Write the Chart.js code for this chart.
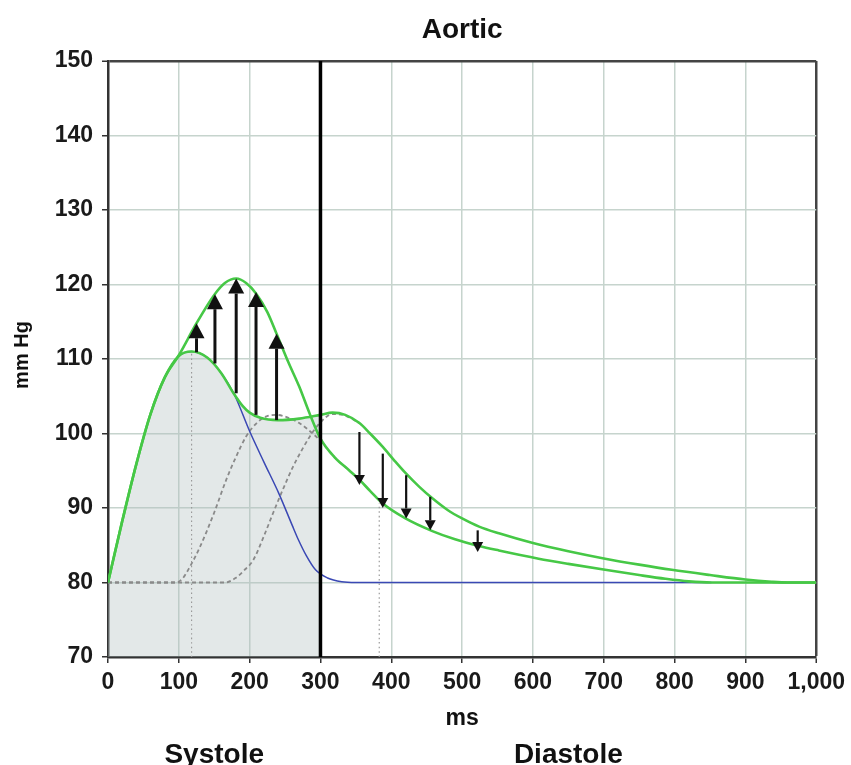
<!DOCTYPE html>
<html>
<head>
<meta charset="utf-8">
<script src="https://cdn.jsdelivr.net/npm/chart.js@4.4.0/dist/chart.umd.min.js"></script>
<style>
  html, body { margin: 0; padding: 0; background: #fff; }
  #wrap { width: 851px; height: 765px; }
</style>
</head>
<body>
<div id="wrap"><canvas id="aorticChart"></canvas></div>
<script>
// pressure traces (ms, mm Hg)
const earlyReflMs = [0, 20, 40, 60, 80, 100, 125, 150, 165, 181, 195, 209, 225, 238, 255, 270, 285, 300, 320, 340, 355, 370, 388, 420, 458, 490, 524, 552, 608, 650, 702, 750, 787, 820, 852, 900, 1000];
const earlyReflP = [80, 88.2, 95.9, 102.6, 107.5, 110.5, 114.8, 118.6, 120.2, 120.8, 120.2, 118.8, 116.3, 113.4, 109.5, 106.3, 102.6, 99.3, 96.8, 95.1, 93.8, 92.3, 90.6, 88.6, 86.9, 85.8, 84.9, 84.3, 83.2, 82.5, 81.7, 81.0, 80.5, 80.15, 80, 80, 80];

const lateReflMs = [0, 20, 40, 60, 80, 100, 118, 140, 160, 178, 190, 200, 215, 240, 270, 300, 317, 335, 355, 370, 388, 405, 421, 440, 458, 480, 500, 524, 552, 600, 650, 702, 750, 796, 850, 900, 937, 960, 1000];
const lateReflP = [80, 88.2, 95.9, 102.6, 107.5, 110.4, 111.0, 110.2, 108.1, 105.3, 103.7, 102.8, 102.1, 101.8, 102.0, 102.5, 102.8, 102.5, 101.4, 100.0, 98.2, 96.3, 94.6, 92.8, 91.3, 89.7, 88.6, 87.5, 86.6, 85.3, 84.2, 83.2, 82.4, 81.7, 81.0, 80.4, 80.1, 80, 80];

const forwardMs = [0, 20, 40, 60, 80, 100, 118, 140, 160, 178, 200, 220, 241, 260, 269, 280, 293, 310, 330, 350, 600, 852];
const forwardP = [80, 88.2, 95.9, 102.6, 107.5, 110.4, 111.0, 110.2, 108.1, 105.3, 100.3, 96.2, 92.0, 87.7, 85.7, 83.6, 81.7, 80.6, 80.1, 80, 80, 80];

const reflWave1Ms = [0, 95, 105, 115, 130, 150, 167, 180, 195, 210, 224, 238, 255, 270, 289, 300, 320, 340];
const reflWave1P = [80, 80, 80.5, 82.0, 84.8, 89.4, 93.8, 96.7, 99.6, 101.4, 102.3, 102.5, 102.1, 101.4, 100.0, 99.0, 96.8, 95.1];

const reflWave2Ms = [0, 165, 180, 192, 205, 220, 233, 247, 261, 275, 285, 300, 317, 335, 355];
const reflWave2P = [80, 80, 80.6, 81.6, 83.0, 86.2, 89.3, 92.5, 95.5, 98.0, 99.6, 101.5, 102.6, 102.4, 101.4];

// arrows between the two traces
const upArrowMs = [125, 151, 181, 209, 238];
const upArrowFrom = [110.9, 109.4, 105.4, 102.5, 101.8];
const upArrowTo = [114.8, 118.7, 120.8, 119.0, 113.4];
const downArrowMs = [355, 388, 421, 455, 522];
const downArrowFrom = [100.2, 97.3, 94.4, 91.5, 87.0];
const downArrowTo = [93.1, 90.0, 88.6, 87.0, 84.1];

// dotted drop lines
const markMs = [118, 383];
const markP = [111.0, 90.6];

const endSystoleMs = 300;
const xMin = 0, xMax = 1000, yMin = 70, yMax = 150;
const phaseLabels = ['Systole', 'Diastole'];

const FONT = "'Liberation Sans', Arial, sans-serif";
const GREEN = '#46c846';

function zip(xs, ys) {
    return xs.map((x, i) => ({ x: x, y: ys[i] }));
}

const lateTrace = zip(lateReflMs, lateReflP);

function drawArrow(ctx, px, y0, y1, lw, headW, headH) {
    const dir = y1 < y0 ? 1 : -1;
    const base = y1 + dir * headH;
    ctx.lineWidth = lw;
    ctx.beginPath();
    ctx.moveTo(px, y0);
    ctx.lineTo(px, base);
    ctx.stroke();
    ctx.beginPath();
    ctx.moveTo(px, y1);
    ctx.lineTo(px - headW / 2, base);
    ctx.lineTo(px + headW / 2, base);
    ctx.closePath();
    ctx.fill();
}

const arrowPlugin = {
    id: 'arrows',
    afterDatasetsDraw(chart) {
        const { ctx, scales: { x, y } } = chart;
        ctx.save();
        ctx.strokeStyle = '#111';
        ctx.fillStyle = '#111';
        upArrowMs.forEach((ms, i) => {
            drawArrow(ctx, x.getPixelForValue(ms), y.getPixelForValue(upArrowFrom[i]), y.getPixelForValue(upArrowTo[i]), 3, 16, 15);
        });
        downArrowMs.forEach((ms, i) => {
            drawArrow(ctx, x.getPixelForValue(ms), y.getPixelForValue(downArrowFrom[i]), y.getPixelForValue(downArrowTo[i]), 2.2, 11, 10);
        });
        ctx.restore();
    }
};

const textPlugin = {
    id: 'texts',
    afterDraw(chart) {
        const { ctx, chartArea: a, scales: { x } } = chart;
        const cx = (a.left + a.right) / 2;
        const cy = (a.top + a.bottom) / 2;
        ctx.save();
        ctx.fillStyle = '#111';
        ctx.textAlign = 'center';
        ctx.textBaseline = 'alphabetic';

        ctx.font = 'bold 28px ' + FONT;
        ctx.fillText('Aortic', cx, 38);

        ctx.font = 'bold 23px ' + FONT;
        ctx.fillText('ms', cx, 725);

        ctx.font = 'bold 28px ' + FONT;
        ctx.fillText(phaseLabels[0], x.getPixelForValue((xMin + endSystoleMs) / 2), 763);
        ctx.fillText(phaseLabels[1], x.getPixelForValue((endSystoleMs + xMax) / 2), 763);

        ctx.translate(28, cy - 4);
        ctx.rotate(-Math.PI / 2);
        ctx.font = 'bold 20px ' + FONT;
        ctx.fillText('mm Hg', 0, 0);
        ctx.restore();
    }
};

const ctx = document.getElementById('aorticChart').getContext('2d');
new Chart(ctx, {
    type: 'line',
    data: {
        datasets: [{
            label: 'end systole',
            data: [{ x: endSystoleMs, y: yMin }, { x: endSystoleMs, y: yMax }],
            borderColor: '#000',
            borderWidth: 3.5
        }, {
            label: 'early reflection',
            data: zip(earlyReflMs, earlyReflP),
            borderColor: GREEN,
            borderWidth: 2.6
        }, {
            label: 'late reflection',
            data: lateTrace,
            borderColor: GREEN,
            borderWidth: 2.6
        }, {
            label: 'forward wave',
            data: zip(forwardMs, forwardP),
            borderColor: '#3a48b4',
            borderWidth: 1.5
        }, {
            label: 'reflected wave 1',
            data: zip(reflWave1Ms, reflWave1P),
            borderColor: '#8a8a8a',
            borderWidth: 1.8,
            borderDash: [4, 3]
        }, {
            label: 'reflected wave 2',
            data: zip(reflWave2Ms, reflWave2P),
            borderColor: '#8a8a8a',
            borderWidth: 1.8,
            borderDash: [4, 3]
        }, {
            label: 'mark 1',
            data: [{ x: markMs[0], y: yMin }, { x: markMs[0], y: markP[0] }],
            borderColor: '#9a9a9a',
            borderWidth: 1.2,
            borderDash: [1.5, 3]
        }, {
            label: 'mark 2',
            data: [{ x: markMs[1], y: yMin }, { x: markMs[1], y: markP[1] }],
            borderColor: '#9a9a9a',
            borderWidth: 1.2,
            borderDash: [1.5, 3]
        }, {
            label: 'systole area',
            data: lateTrace.filter(p => p.x <= endSystoleMs),
            borderWidth: 0,
            borderColor: 'rgba(0,0,0,0)',
            backgroundColor: 'rgba(178,190,190,0.36)',
            fill: 'start'
        }]
    },
    options: {
        responsive: true,
        maintainAspectRatio: false,
        animation: false,
        layout: { padding: { top: 61, right: 33, bottom: 0, left: 0 } },
        elements: {
            point: { radius: 0, hoverRadius: 0 },
            line: { cubicInterpolationMode: 'monotone' }
        },
        plugins: {
            legend: { display: false },
            title: { display: false },
            tooltip: { enabled: false }
        },
        scales: {
            x: {
                type: 'linear',
                min: xMin,
                max: xMax,
                afterFit: s => { s.height = 108; },
                border: { color: '#333', width: 2.5 },
                grid: {
                    color: c => c.tick && c.tick.value === xMax ? '#444' : '#c6d4cd',
                    lineWidth: c => c.tick && c.tick.value === xMax ? 2.5 : 1.5,
                    tickColor: '#333',
                    tickWidth: 1.5,
                    tickLength: 6
                },
                ticks: {
                    stepSize: 100,
                    padding: 6,
                    color: '#1a1a1a',
                    font: { family: FONT, size: 23, weight: 'bold' },
                    callback: v => v.toLocaleString('en-US')
                }
            },
            y: {
                min: yMin,
                max: yMax,
                afterFit: s => { s.width = 108; },
                border: { color: '#333', width: 2.5 },
                grid: {
                    color: c => c.tick && c.tick.value === yMax ? '#444' : '#c6d4cd',
                    lineWidth: c => c.tick && c.tick.value === yMax ? 2.5 : 1.5,
                    tickColor: '#333',
                    tickWidth: 1.5,
                    tickLength: 6
                },
                ticks: {
                    stepSize: 10,
                    padding: 9,
                    color: '#1a1a1a',
                    font: { family: FONT, size: 23, weight: 'bold' }
                }
            }
        }
    },
    plugins: [arrowPlugin, textPlugin]
});
</script>
</body>
</html>
